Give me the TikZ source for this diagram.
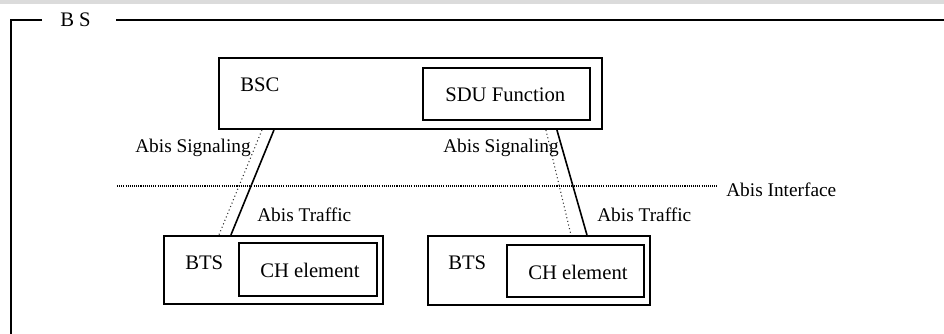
\documentclass[tikz,border=0pt]{standalone}
\usepackage{fontspec}
\setmainfont{Liberation Serif}
\usetikzlibrary{fit,calc}
\begin{document}
\begin{tikzpicture}[x=0.75pt,y=-0.75pt,
  frame/.style={line width=1.8pt},
  box/.style={draw, line width=1.6pt, inner sep=0pt},
  lbl/.style={inner sep=0pt, font=\fontsize{15.5}{18}\selectfont},
  linklbl/.style={inner sep=0pt, font=\fontsize{14.5}{16}\selectfont},
  traffic/.style={line width=1.2pt},
  signal/.style={dotted, line width=0.8pt, black!80},
  iface/.style={line width=1.6pt, dash pattern=on 0.8pt off 0.8pt}]
\useasboundingbox (0,0) rectangle (944,334);
\fill[gray!28] (0,0) rectangle (944,4);

% outer BS frame with its title in a gap of the top edge
\node[lbl, anchor=base west] (bs) at (60,27) {B S};
\coordinate (bsTL) at (11,20);
\draw[frame] (42,20) -- (bsTL) -- (11,334);
\draw[frame] (116,20) -- (944,20);

% BSC with its SDU function
\node[box, fit={(219,58) (602,129)}] (bsc) {};
\node[lbl, anchor=base west] (bscT) at (240,92) {BSC};
\node[box, fit={(423,68) (590,120)}] (sdu) {};
\node[lbl, anchor=base west] (sduT) at (445,102) {SDU Function};

% two BTS, each holding a CH element
\node[box, fit={(164,236) (383,304)}] (btsA) {};
\node[lbl, anchor=base west] (btsAT) at (185,269) {BTS};
\node[box, fit={(239,243) (377,296)}] (chA) {};
\node[lbl, anchor=base west] (chAT) at (260,277) {CH element};

\node[box, fit={(428,236) (650,305)}] (btsB) {};
\node[lbl, anchor=base west] (btsBT) at (448,269) {BTS};
\node[box, fit={(507,245) (644,297)}] (chB) {};
\node[lbl, anchor=base west] (chBT) at (528,279) {CH element};

% Abis interface boundary
\coordinate (ifL) at (117,186);
\coordinate (ifR) at (717,186);
\draw[iface] (ifL) -- (ifR);
\node[linklbl, anchor=base west] (ifT) at (726,197) {Abis Interface};

% Abis links: traffic (solid) and signaling (dotted)
\draw[traffic] ($(bsc.south west)+(56,0)$) -- ($(btsA.north west)+(68,0)$);
\draw[signal]  ($(bsc.south west)+(44,0)$) -- ($(btsA.north west)+(56,0)$);
\draw[traffic] ($(bsc.south west)+(339,0)$) -- ($(btsB.north west)+(160,0)$);
\draw[signal]  ($(bsc.south west)+(328,0)$) -- ($(btsB.north west)+(144,0)$);

\node[linklbl, anchor=base west] (sigA) at (135,153) {Abis Signaling};
\node[linklbl, anchor=base west] (trfA) at (257,222) {Abis Traffic};
\node[linklbl, anchor=base west] (sigB) at (443,153) {Abis Signaling};
\node[linklbl, anchor=base west] (trfB) at (597,222) {Abis Traffic};
\end{tikzpicture}
\end{document}
